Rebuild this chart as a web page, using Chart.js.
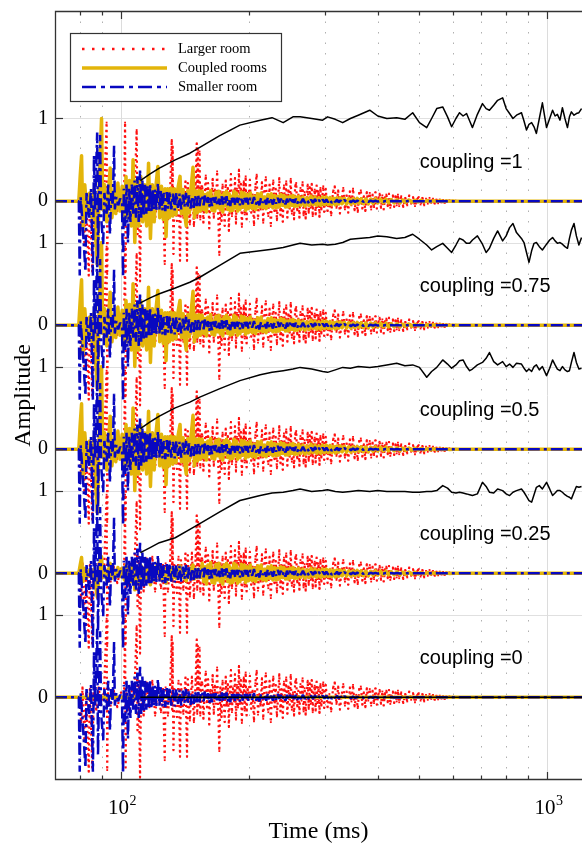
<!DOCTYPE html>
<html><head><meta charset="utf-8">
<script src="https://cdn.jsdelivr.net/npm/chart.js@4.4.0/dist/chart.umd.min.js"></script>
<style>html,body{margin:0;padding:0;background:#fff;}canvas{display:block;}</style>
</head><body>
<canvas id="c" width="582" height="846" style="width:582px;height:846px"></canvas>
<script>
// ---------------- data ----------------
const couplings = [1, 0.75, 0.5, 0.25, 0];
const seriesNames = ['Larger room', 'Coupled rooms', 'Smaller room'];
const yTickValues = [0, 1, 1.5, 2.5, 3, 4, 4.5, 5.5, 6, 7];
const yTickLabels = ['0', '1', '0', '1', '0', '1', '0', '1', '0', '1'];
const xTickValues = [80, 90, 100, 200, 300, 400, 500, 600, 700, 800, 900, 1000];
const xTickLabels = ['', '', '10^2', '', '', '', '', '', '', '', '', '10^3'];

// larger room: early reflections (ms, amplitude)
const redEarlyT = [70, 79.8, 80.6, 81.2, 82.0, 82.8, 84.0, 84.5, 85.6, 86.2,
  87.5, 88.6, 89.8, 91.2, 92.5, 92.8, 93.2, 94.6, 96.2, 98.0,
  100.0, 101.6, 102.2, 102.5, 102.9, 104.2, 105.6, 107.2, 108.8, 109.3,
  110.0, 110.8, 111.4, 113.0, 114.8, 116.6, 118.4, 120.2, 122.0, 124.0,
  125.4, 126.6, 127.2, 128.8, 130.4, 131.5, 131.8, 132.1, 132.4, 132.7,
  133.4, 135.2, 136.4, 137.5, 138.2, 140.0, 141.6, 142.8, 143.4, 145.0,
  146.6, 148.2, 149.6, 150.5, 150.9, 151.5, 152.0, 152.8, 153.4, 154.2];
const redEarlyV = [0, 0, -0.3, 0.12, -0.5, 0.05, -0.9, 0.1, -0.85, 0.05,
  -0.15, 0.12, -0.08, 0.06, 0.95, -0.88, 0.05, -0.1, 0.08, -0.12,
  0.06, -0.05, 0.95, -0.85, 0.05, -0.15, 0.12, -0.12, 0.86, -0.4,
  0.2, -0.97, 0.05, -0.22, 0.18, -0.12, 0.2, -0.22, 0.14, -0.18,
  0.1, -0.76, 0.12, -0.22, 0.16, 0.74, -0.15, 0.66, -0.05, -0.64,
  0.1, -0.24, 0.2, -0.72, 0.16, -0.2, 0.24, -0.72, 0.22, -0.28,
  0.25, -0.3, 0.2, 0.7, -0.2, 0.62, -0.1, 0.6, -0.22, 0.18];

// larger room: late decay (ms, amplitude)
const redNoiseT = [155, 156, 157, 158, 159, 160, 161, 162, 163, 164,
  165, 166, 167, 168, 169, 170, 171, 172, 173, 174,
  175, 176, 177, 178, 179, 180, 181, 182, 183, 184,
  185, 186, 187, 188, 189, 190, 191, 192, 193, 194,
  195, 196, 197, 198, 199,
  200.5, 202, 203.5, 205, 206.5, 208, 209.5, 211, 212.5, 214,
  215.5, 217, 218.5, 220, 221.5, 223, 224.5, 226, 227.5, 229,
  230.5, 232, 233.5, 235, 236.5, 238, 239.5, 241, 242.5, 244,
  245.5, 247, 248.5, 250, 251.5, 253, 254.5, 256, 257.5, 259,
  260.5, 262, 263.5, 265, 266.5, 268, 269.5, 271, 272.5, 274,
  275.5, 277, 278.5, 280, 281.5, 283, 284.5, 286, 287.5, 289,
  290.5, 292, 293.5, 295, 296.5, 298, 299.5,
  302, 305, 308, 311, 314, 317, 320, 323, 326, 329,
  332, 335, 338, 341, 344, 347, 350, 353, 356, 359,
  362, 365, 368, 371, 374, 377, 380, 383, 386, 389,
  392, 395, 398, 401, 404, 407, 410, 413, 416, 419,
  422, 425, 428, 431, 434, 437, 440, 443, 446, 449,
  454, 459, 464, 469, 474, 479, 484, 489, 494, 499,
  504, 509, 514, 519, 524, 529, 534, 539, 544, 549,
  554, 559, 564, 569, 574, 579, 584, 589, 594, 599,
  604, 609, 614, 619, 1210];
const redNoiseV = [0.18, -0.26, 0.05, 0.31, -0.12, 0.22, -0.33, 0.09, -0.04, 0.27,
  -0.2, 0.14, -0.08, 0.36, -0.15, -0.65, 0.12, -0.24, 0.2, 0.02,
  -0.3, 0.25, -0.1, 0.16, -0.36, 0.07, 0.33, -0.18, 0.11, -0.05,
  0.28, -0.27, 0.15, -0.12, 0.38, -0.08, 0.21, -0.31, 0.04, 0.24,
  -0.16, 0.3, -0.22, 0.1, -0.03,
  0.26, -0.14, 0.08, -0.29, 0.17, 0.32, -0.21, 0.04, -0.1, 0.23,
  -0.26, 0.12, 0.29, -0.06, -0.18, 0.2, -0.3, 0.07, 0.25, -0.12,
  0.15, -0.23, 0.02, 0.28, -0.17, 0.1, -0.25, 0.19, -0.05, 0.24,
  -0.2, 0.13, -0.09, 0.27, -0.15, 0.06, -0.22, 0.18, 0.22, -0.11,
  0.08, -0.2, 0.16, -0.04, 0.23, -0.17, 0.11, -0.21, 0.03, 0.2,
  -0.14, 0.17, -0.08, 0.21, -0.18, 0.06, 0.14, -0.16, 0.19, -0.07,
  0.12, -0.19, 0.16, -0.1, 0.05, 0.18, -0.13,
  0.15, -0.12, 0.04, -0.17, 0.11, 0.18, -0.08, 0.13, -0.15, 0.02,
  0.16, -0.1, 0.07, -0.14, 0.12, -0.05, 0.15, -0.11, 0.03, -0.13,
  0.1, 0.13, -0.09, 0.06, -0.12, 0.11, -0.04, 0.1, -0.1, 0.08,
  -0.07, 0.11, -0.09, 0.03, 0.09, -0.08, 0.07, -0.1, 0.05, 0.08,
  -0.06, 0.09, -0.08, 0.02, 0.07, -0.07, 0.06, -0.05, 0.08, -0.06,
  0.06, -0.07, 0.04, -0.05, 0.07, -0.03, 0.05, -0.06, 0.02, 0.05,
  -0.04, 0.04, -0.05, 0.03, -0.03, 0.04, -0.02, 0.03, -0.03, 0.02,
  -0.025, 0.02, -0.015, 0.015, -0.02, 0.01, -0.01, 0.012, -0.008, 0.006,
  -0.005, 0.004, -0.002, 0, 0];

// coupled and smaller room: late sample times (ms)
const noiseT = [155, 156.2, 157.4, 158.6, 159.8, 161, 162.2, 163.4, 164.6, 165.8,
  167, 168.2, 169.6, 170.8, 172, 173.2, 174.4, 175.6, 176.8, 178,
  179.2, 180.4, 181.6, 182.8, 184, 185.2, 186.4, 187.6, 188.8, 190,
  191.5, 193, 194.5, 196, 197.5, 199,
  201, 203, 205, 207, 209, 211, 213, 215, 217, 219,
  221, 223, 225, 227, 229, 231, 233, 235, 237, 239,
  241, 243, 245, 247, 249, 251, 253, 255, 257, 259,
  261, 264, 267, 270, 273, 276, 279, 282, 285, 288, 291, 294, 297, 300,
  303, 306, 309, 312, 315, 318, 321, 324, 327, 330,
  334, 338, 342, 346, 350, 354, 358, 362, 366, 370,
  375, 380, 385, 390, 395, 400,
  406, 412, 418, 424, 430, 437, 444, 451, 458, 465,
  473, 481, 489, 497, 505, 514, 523, 532, 541, 550,
  560, 570, 580, 590, 600, 610, 620, 1210];

// smaller room: early part
const blueEarlyT = [70, 79.6, 80.0, 80.4, 81.3, 82.5, 83.0, 84.2, 85.0, 85.9,
  86.4, 86.9, 87.9, 88.3, 88.8, 89.3, 89.8, 90.8, 91.4, 92.5,
  93.3, 94.2, 94.8, 95.6, 96.3, 96.7, 97.5, 98.5, 99.5, 100.5,
  101.1, 101.5, 102.3, 103.0, 103.8, 104.5, 105.2, 106.0, 106.8, 107.6,
  108.4, 109.2, 110.0, 110.8, 111.5, 112.2, 113.0, 113.8, 114.6, 115.4,
  116.2, 117.0, 117.8, 118.6, 119.4, 120.2, 121.0, 122.0, 123.0, 124.0,
  125.0, 126.0, 127.0, 128.0, 129.0, 130.0, 131.2, 132.4, 133.6, 134.8,
  136.0, 137.2, 138.4, 139.6, 140.8, 142.0, 143.2, 144.4, 145.6, 146.8,
  148.0, 149.2, 150.4, 151.6, 152.8, 154.0];
const blueEarlyV = [0, 0, -0.9, 0.05, -0.3, -0.85, 0.1, -0.2, 0.15, -0.9,
  0.55, -0.1, 0.83, -0.7, 0.1, 0.8, -0.2, -0.52, 0.1, -0.15,
  0.2, -0.4, 0.1, -0.05, 0.67, -0.1, 0.05, -0.05, 0.03, 0,
  -0.92, 0.15, -0.3, 0.2, -0.5, 0.15, -0.25, 0.2, -0.15, 0.25,
  -0.2, 0.3, -0.25, 0.37, -0.2, 0.25, -0.18, 0.2, -0.15, 0.18,
  -0.12, 0.2, -0.14, 0.15, -0.1, 0.14, -0.12, 0.22, -0.1, 0.13,
  -0.11, 0.1, -0.12, 0.11, -0.09, 0.12, -0.1, 0.09, -0.11, 0.1,
  -0.08, 0.09, -0.1, 0.08, -0.07, 0.1, -0.08, 0.07, -0.09, 0.06,
  -0.08, 0.07, -0.06, 0.08, -0.06, 0.07];
const blueNoiseV = [0.06, -0.05, 0.08, -0.03, 0.05, -0.07, 0.04, -0.06, 0.07, -0.02,
  0.05, -0.06, 0.03, -0.05, 0.07, -0.04, 0.05, -0.03, 0.06, -0.05,
  0.02, -0.06, 0.05, -0.03, 0.04, -0.05, 0.06, -0.02, 0.04, -0.05,
  0.03, -0.04, 0.05, -0.03, 0.04, -0.04,
  0.04, -0.03, 0.05, -0.04, 0.02, -0.05, 0.04, -0.02, 0.03, -0.04,
  0.05, -0.03, 0.02, -0.04, 0.03, -0.03, 0.04, -0.02, 0.03, -0.03,
  0.02, -0.04, 0.03, -0.02, 0.03, -0.03, 0.02, -0.02, 0.03, -0.03,
  0.02, -0.02, 0.03, -0.02, 0.02, -0.03, 0.02, -0.02, 0.025, -0.02, 0.015, -0.02, 0.02, -0.015,
  0.02, -0.015, 0.02, -0.02, 0.015, -0.01, 0.02, -0.015, 0.01, -0.015,
  0.015, -0.01, 0.01, -0.012, 0.01, -0.01, 0.008, -0.01, 0.01, -0.008,
  0.006, -0.008, 0.006, -0.005, 0.005, -0.005,
  0.004, -0.004, 0.003, -0.003, 0.003, -0.002, 0.002, -0.002, 0.002, -0.001,
  0.001, -0.001, 0, 0, 0, 0, 0, 0, 0, 0,
  0, 0, 0, 0, 0, 0, 0, 0];

// coupled rooms: early part
const coupledEarlyT = [70, 79.6, 80.2, 80.8, 81.4, 82.2, 83.2, 84.4, 85.5, 86.5,
  87.2, 88.0, 89.0, 90.0, 90.6, 91.5, 92.6, 93.6, 94.3, 95.2,
  96.2, 97.2, 98.3, 99.4, 100.6, 101.8, 102.7, 103.6, 104.6, 105.7,
  106.7, 107.7, 108.8, 110.0, 111.2, 112.4, 113.6, 114.8, 116.0, 117.2,
  118.4, 119.6, 120.8, 122.0, 123.2, 124.4, 125.6, 126.8, 127.5, 128.6,
  129.8, 131.0, 132.2, 133.4, 134.6, 135.8, 137.5, 138.6, 139.8, 141.0,
  142.2, 143.4, 144.6, 145.8, 147.5, 148.6, 149.8, 151.0, 152.2, 153.4, 154.4];
const coupledEarlyStrongV = [0, 0, 0.3, 0.55, -0.35, 0.2, -0.15, 0.1, -0.2, 0.15,
  -0.45, -0.77, 0.3, 1.0, -0.1, 0.2, -0.25, 0.15, 0.4, -0.2,
  0.12, -0.15, 0.22, -0.12, 0.18, -0.25, 0.3, -0.2, 0.25, -0.3,
  0.5, -0.5, 0.25, -0.3, 0.3, -0.25, 0.2, -0.3, 0.46, -0.45,
  0.2, -0.25, 0.2, 0.42, -0.2, 0.18, -0.22, 0.15, -0.43, 0.15,
  -0.2, 0.16, -0.18, 0.15, -0.16, 0.14, 0.3, -0.15, 0.14, -0.16,
  -0.3, 0.13, -0.14, 0.13, 0.41, -0.2, 0.12, -0.14, 0.13, -0.12, 0.12];
const coupledEarlyWeakV = [0, 0, 0.1, 0.19, -0.1, 0.06, -0.05, 0.04, -0.06, 0.05,
  -0.15, -0.29, 0.1, 0.2, -0.05, 0.06, -0.08, 0.05, 0.12, -0.06,
  0.04, -0.05, 0.07, -0.04, 0.06, -0.08, 0.1, -0.07, 0.08, -0.1,
  0.15, -0.2, 0.08, -0.1, 0.1, -0.08, 0.07, -0.1, 0.12, -0.14,
  0.07, -0.08, 0.07, 0.12, -0.07, 0.06, -0.08, 0.05, -0.12, 0.05,
  -0.07, 0.06, -0.06, 0.05, -0.06, 0.05, 0.09, -0.05, 0.05, -0.06,
  -0.09, 0.05, -0.05, 0.05, 0.1, -0.07, 0.05, -0.05, 0.05, -0.05, 0.05];
const coupledNoiseV = [0.12, -0.1, 0.08, -0.13, 0.1, -0.06, 0.13, -0.11, 0.05, -0.12,
  0.11, -0.08, 0.12, -0.1, 0.07, -0.13, 0.1, -0.05, 0.12, -0.1,
  0.09, -0.12, 0.06, -0.11, 0.12, -0.08, 0.1, -0.12, 0.05, -0.1,
  0.11, -0.07, 0.1, -0.11, 0.08, -0.09,
  0.1, -0.09, 0.06, -0.1, 0.09, -0.07, 0.1, -0.08, 0.05, -0.09,
  0.08, -0.06, 0.09, -0.08, 0.07, -0.08, 0.06, -0.07, 0.08, -0.05,
  0.07, -0.07, 0.05, -0.07, 0.06, -0.05, 0.07, -0.06, 0.05, -0.06,
  0.06, -0.05, 0.05, -0.06, 0.04, -0.05, 0.06, -0.04, 0.05, -0.05, 0.04, -0.05, 0.05, -0.04,
  0.05, -0.04, 0.045, -0.04, 0.035, -0.045, 0.04, -0.035, 0.04, -0.03,
  0.035, -0.035, 0.03, -0.035, 0.03, -0.03, 0.035, -0.025, 0.03, -0.03,
  0.025, -0.03, 0.025, -0.025, 0.03, -0.02,
  0.025, -0.02, 0.025, -0.02, 0.02, -0.02, 0.018, -0.018, 0.015, -0.015,
  0.015, -0.012, 0.012, -0.01, 0.01, -0.01, 0.008, -0.008, 0.006, -0.006,
  0.005, -0.004, 0.003, -0.002, 0.001, 0, 0, 0];
const flatT = [70, 1210];
const flatV = [0, 0];

// black curve, one per coupling
const blackT = [111, 117, 123, 134, 145, 153, 170, 190, 212, 226,
  240, 253, 263, 280, 297, 305, 318, 331, 345, 360,
  383, 400, 420, 443, 463, 483, 501, 521, 535, 550,
  568, 583, 596, 610, 622, 634, 646, 657, 667, 685,
  704, 718, 731, 748, 764, 785, 800, 815, 830, 846,
  869, 881, 893, 905, 918, 930, 942, 957, 973, 995,
  1012, 1028, 1042, 1055, 1070, 1084, 1099, 1114, 1126, 1138,
  1154, 1169, 1185, 1202];
const blackV1 = [0.25, 0.33, 0.40, 0.50, 0.58, 0.65, 0.79, 0.92, 0.98, 1.01,
  0.95, 1.02, 1.02, 1.0, 0.98, 1.02, 0.99, 0.95, 1.0, 1.04,
  1.1, 1.03, 1.0, 1.01, 0.99, 1.07, 0.95, 0.89, 1.0, 1.12,
  1.14, 1.02, 0.9, 1.0, 1.07, 1.03, 1.06, 0.97, 0.89, 1.05,
  1.18, 1.12, 1.1, 1.16, 1.22, 1.25, 1.12, 1.06, 1.0, 1.04,
  1.07, 0.97, 0.86, 0.93, 0.95, 0.9, 0.82, 1.0, 1.19, 0.89,
  1.0, 1.1, 1.03, 1.05, 0.98, 1.13, 1.0, 0.89, 1.02, 1.08,
  1.04, 1.06, 1.07, 1.12];
const blackV075 = [0.27, 0.33, 0.38, 0.45, 0.52, 0.58, 0.72, 0.87, 0.9, 0.92,
  0.94, 0.97, 0.99, 0.97, 0.98, 0.97, 0.98, 1.0, 1.04, 1.05,
  1.06, 1.08, 1.07, 1.05, 1.06, 1.1, 1.04, 0.97, 0.91, 0.95,
  0.99, 0.93, 0.88, 0.97, 1.05, 1.03, 0.99, 0.99, 1.03, 1.08,
  0.98, 0.88, 0.93, 1.05, 1.14, 1.02, 1.08, 1.18, 1.23, 1.12,
  1.05, 1.0, 0.88, 0.76, 0.9, 0.99, 1.0, 0.95, 0.91, 0.98,
  1.03, 1.06, 1.02, 0.99, 1.0, 0.98, 0.95, 0.93, 1.05, 1.15,
  1.23, 1.08, 0.97, 1.06];
const blackV05 = [0.25, 0.33, 0.4, 0.5, 0.57, 0.63, 0.73, 0.83, 0.9, 0.93,
  0.95, 0.97, 0.99, 0.97, 0.94, 0.93, 0.96, 0.99, 0.98, 1.0,
  0.99, 1.0, 1.02, 1.04, 1.01, 1.02, 0.99, 0.87, 0.94, 0.99,
  1.08, 1.03, 0.98, 1.02, 1.07, 1.08, 1.0, 0.95, 0.97, 1.02,
  1.05, 1.1, 1.17, 1.06, 1.02, 1.06, 1.0, 1.03, 0.99, 1.04,
  1.03, 0.98, 0.94, 0.97, 0.94, 1.0, 1.02, 0.96, 1.0, 0.89,
  0.98, 1.08, 1.02, 0.97, 0.95, 1.0, 0.96, 0.94, 0.95, 1.05,
  1.17, 1.05, 0.97, 0.98];
const blackV025 = [0.25, 0.31, 0.37, 0.43, 0.53, 0.6, 0.74, 0.88, 0.94, 0.97,
  0.98, 1.0, 1.02, 0.99, 1.0, 1.01, 0.99, 0.98, 0.99, 1.0,
  0.99, 1.0, 0.99, 0.99, 0.99, 0.98, 0.98, 0.99, 0.99, 1.0,
  1.06, 1.03, 0.98, 0.97, 0.98, 0.97, 0.96, 0.95, 0.94, 0.96,
  1.1, 1.05, 0.98, 0.97, 1.02, 1.0, 0.96, 0.94, 0.98, 1.0,
  1.02, 0.98, 0.93, 0.88, 0.86, 0.95, 1.04, 1.06, 1.02, 1.1,
  1.02, 0.94, 0.97, 1.0, 1.0, 0.98, 0.95, 0.93, 0.92, 0.9,
  0.98, 1.05, 1.04, 1.05];
const blackFlatT = [111, 1210];

// which arrays go with each coupling (parallel to couplings)
const coupledEarlyFor = [coupledEarlyStrongV, coupledEarlyStrongV, coupledEarlyStrongV, coupledEarlyWeakV, null];
const blackVFor = [blackV1, blackV075, blackV05, blackV025, null];

// ---------------- layout / style ----------------
const panelStep = 1.5;
const labelTime = 502;
const labelLift = 0.4;
const SERIF = '"Liberation Serif", "Times New Roman", serif';
const SANS = '"Liberation Sans", Arial, sans-serif';
const RED = '#ff1010', YEL = '#e3b50a', BLU = '#0808c0';

function zip(ts, vs, off) {
  const n = Math.min(ts.length, vs.length), out = [];
  for (let i = 0; i < n; i++) out.push({x: ts[i], y: vs[i] + off});
  return out;
}

const datasets = [];
couplings.forEach((c, i) => {
  const off = panelStep * (couplings.length - 1 - i);
  const red = zip(redEarlyT, redEarlyV, off).concat(zip(redNoiseT, redNoiseV, off));
  const early = coupledEarlyFor[i];
  const yel = early ? zip(coupledEarlyT, early, off).concat(zip(noiseT, coupledNoiseV, off)) : zip(flatT, flatV, off);
  const blue = zip(blueEarlyT, blueEarlyV, off).concat(zip(noiseT, blueNoiseV, off));
  const blk = blackVFor[i] ? zip(blackT, blackVFor[i], off) : zip(blackFlatT, flatV, off);
  datasets.push({label: seriesNames[0], data: red, borderColor: RED, borderWidth: 2.2, borderDash: [2.2, 3.4],
    borderJoinStyle: 'bevel', borderCapStyle: 'butt', order: 4,
    pointRadius: 1.3, pointStyle: 'rect', pointBackgroundColor: RED, pointBorderWidth: 0});
  datasets.push({label: seriesNames[1], data: yel, borderColor: YEL, borderWidth: 3.5,
    borderJoinStyle: 'round', order: 3});
  datasets.push({label: seriesNames[2], data: blue, borderColor: BLU, borderWidth: 2.5, borderDash: [12, 4, 3, 4],
    borderJoinStyle: 'bevel', order: 2});
  datasets.push({label: 'ratio', data: blk, borderColor: '#000', borderWidth: 1.5, borderJoinStyle: 'round', order: 1});
});

const legendDash = [[2.5, 7.5], [], [14, 5, 4, 5]];
const legendWidth = [2.5, 3.5, 2.5];
const legendColor = [RED, YEL, BLU];

const decor = {
  id: 'decor',
  beforeDatasetsDraw(chart) {
    const {ctx, chartArea: a, scales: {x, y}} = chart;
    ctx.save();
    ctx.lineWidth = 1;
    ctx.strokeStyle = '#e0e0e0';
    yTickValues.forEach(v => {
      const py = Math.round(y.getPixelForValue(v)) + 0.5;
      ctx.beginPath(); ctx.moveTo(a.left, py); ctx.lineTo(a.right, py); ctx.stroke();
    });
    xTickValues.forEach((v, i) => {
      const px = Math.round(x.getPixelForValue(v)) + 0.5;
      const major = xTickLabels[i] !== '';
      ctx.setLineDash(major ? [] : [1.5, 9]);
      ctx.strokeStyle = major ? '#dcdcdc' : '#b0b0b0';
      ctx.beginPath(); ctx.moveTo(px, a.top); ctx.lineTo(px, a.bottom); ctx.stroke();
    });
    ctx.restore();
  },
  afterDatasetsDraw(chart) {
    const {ctx, chartArea: a, scales: {x, y}} = chart;
    ctx.save();
    ctx.setLineDash([]);
    ctx.strokeStyle = '#333'; ctx.lineWidth = 1.3;
    ctx.beginPath();
    ctx.moveTo(a.right + 2, a.top + 0.5); ctx.lineTo(a.left + 0.5, a.top + 0.5);
    ctx.lineTo(a.left + 0.5, a.bottom - 0.5); ctx.lineTo(a.right + 2, a.bottom - 0.5);
    ctx.stroke();
    ctx.lineWidth = 1.2;
    xTickValues.forEach((v, i) => {
      const px = Math.round(x.getPixelForValue(v)) + 0.5;
      const len = xTickLabels[i] ? 8 : 4.5;
      ctx.beginPath();
      ctx.moveTo(px, a.bottom); ctx.lineTo(px, a.bottom - len);
      ctx.moveTo(px, a.top); ctx.lineTo(px, a.top + len);
      ctx.stroke();
    });
    yTickValues.forEach(v => {
      const py = Math.round(y.getPixelForValue(v)) + 0.5;
      ctx.beginPath(); ctx.moveTo(a.left, py); ctx.lineTo(a.left + 8, py); ctx.stroke();
    });
    // x tick labels (power of ten)
    ctx.fillStyle = '#000'; ctx.textBaseline = 'alphabetic'; ctx.textAlign = 'left';
    xTickValues.forEach((v, i) => {
      const lab = xTickLabels[i]; if (!lab) return;
      const parts = lab.split('^');
      ctx.font = '21px ' + SERIF; const wb = ctx.measureText(parts[0]).width;
      ctx.font = '14px ' + SERIF; const we = ctx.measureText(parts[1]).width;
      const left = x.getPixelForValue(v) - (wb + we) / 2 + 1;
      ctx.font = '21px ' + SERIF; ctx.fillText(parts[0], left, a.bottom + 34);
      ctx.font = '14px ' + SERIF; ctx.fillText(parts[1], left + wb + 0.5, a.bottom + 25);
    });
    // coupling labels
    ctx.font = '20px ' + SANS;
    couplings.forEach((c, i) => {
      const off = panelStep * (couplings.length - 1 - i);
      ctx.fillText('coupling =' + c, x.getPixelForValue(labelTime), y.getPixelForValue(off + labelLift));
    });
    // legend
    const lx = a.left + 15, ly = a.top + 22, lw = 211, lh = 68;
    ctx.fillStyle = '#fff'; ctx.fillRect(lx, ly, lw, lh);
    ctx.strokeStyle = '#333'; ctx.lineWidth = 1.2; ctx.strokeRect(lx + 0.5, ly + 0.5, lw, lh);
    seriesNames.forEach((name, k) => {
      const ry = ly + 16 + k * 19;
      ctx.strokeStyle = legendColor[k]; ctx.lineWidth = legendWidth[k]; ctx.setLineDash(legendDash[k]);
      ctx.beginPath(); ctx.moveTo(lx + 12, ry); ctx.lineTo(lx + 97, ry); ctx.stroke();
      ctx.setLineDash([]);
      ctx.fillStyle = '#000'; ctx.font = '14.5px ' + SERIF; ctx.textBaseline = 'middle';
      ctx.fillText(name, lx + 108, ry);
    });
    ctx.restore();
  }
};

new Chart(document.getElementById('c'), {
  type: 'line',
  data: {datasets},
  plugins: [decor],
  options: {
    responsive: false, animation: false, devicePixelRatio: 1,
    layout: {autoPadding: false, padding: {top: 11, right: 0, left: 0, bottom: 0}},
    plugins: {legend: {display: false}, tooltip: {enabled: false}},
    elements: {point: {radius: 0}, line: {tension: 0, fill: false}},
    scales: {
      x: {type: 'logarithmic', min: 70, max: 1205, position: 'bottom',
        afterBuildTicks: s => { s.ticks = xTickValues.map(v => ({value: v})); },
        afterFit: s => { s.height = 66; s.paddingLeft = 0; s.paddingRight = 0; },
        grid: {display: false, drawTicks: false}, border: {display: false},
        ticks: {display: false},
        title: {display: true, text: 'Time (ms)', color: '#000', font: {family: SERIF, size: 24}, padding: {top: 0, bottom: 0}}},
      y: {type: 'linear', min: -1, max: 8.3,
        afterBuildTicks: s => { s.ticks = yTickValues.map(v => ({value: v})); },
        afterFit: s => { s.width = 55; s.paddingTop = 0; s.paddingBottom = 0; },
        grid: {display: false, drawTicks: false}, border: {display: false},
        ticks: {autoSkip: false, padding: 7, color: '#000', font: {family: SERIF, size: 20},
          callback: (v, idx) => yTickLabels[idx]},
        title: {display: true, text: 'Amplitude', color: '#000', font: {family: SERIF, size: 24}, padding: {top: 9, bottom: 0}}}
    }
  }
});
</script>
</body></html>
